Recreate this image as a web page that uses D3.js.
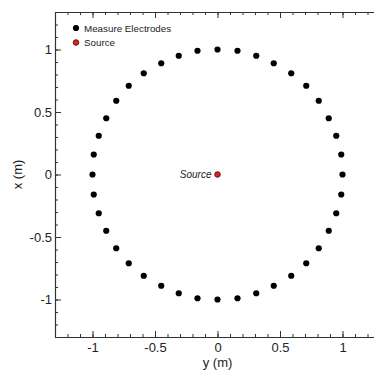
<!DOCTYPE html>
<html>
<head>
<meta charset="utf-8">
<script src="https://d3js.org/d3.v7.min.js"></script>
<style>
  body { margin: 0; background: #fff; }
  text { font-family: "Liberation Sans", Arial, sans-serif; fill: #222; }
</style>
</head>
<body>
<svg id="chart" width="374" height="372"></svg>
<script>
// electrode positions (y horizontal, x vertical)
const electrodeY = [0, 0.16, 0.31, 0.45, 0.59, 0.71, 0.81, 0.89, 0.95, 0.99,
                    1, 0.99, 0.95, 0.89, 0.81, 0.71, 0.59, 0.45, 0.31, 0.16,
                    0, -0.16, -0.31, -0.45, -0.59, -0.71, -0.81, -0.89, -0.95, -0.99,
                    -1, -0.99, -0.95, -0.89, -0.81, -0.71, -0.59, -0.45, -0.31, -0.16]
const electrodeX = [1, 0.99, 0.95, 0.89, 0.81, 0.71, 0.59, 0.45, 0.31, 0.16,
                    0, -0.16, -0.31, -0.45, -0.59, -0.71, -0.81, -0.89, -0.95, -0.99,
                    -1, -0.99, -0.95, -0.89, -0.81, -0.71, -0.59, -0.45, -0.31, -0.16,
                    0, 0.16, 0.31, 0.45, 0.59, 0.71, 0.81, 0.89, 0.95, 0.99]
const sourceY = [0]
const sourceX = [0]
const majorTicks = [-1, -0.5, 0, 0.5, 1]
const legendLabels = ["Measure Electrodes", "Source"]

const svg = d3.select("#chart")
const padL = 55, padT = 12, size = 325

const sx = d3.scaleLinear().domain([-1.3, 1.3]).range([padL, padL + size])
const sy = d3.scaleLinear().domain([-1.3, 1.3]).range([padT + size, padT])
const fmt = d => String(d)
const minor = d3.range(-13, 14).map(d => d / 10)

function inTicks(axis, len) {
    return axis.tickSizeInner(-len).tickSizeOuter(0).tickPadding(3)
}

// bottom
let gb = svg.append("g").attr("transform", `translate(0,${padT + size})`)
gb.call(inTicks(d3.axisBottom(sx).tickValues(minor).tickFormat(""), 3))
gb.append("g").call(inTicks(d3.axisBottom(sx).tickValues(majorTicks).tickFormat(fmt), 6))
// top
let gt = svg.append("g").attr("transform", `translate(0,${padT})`)
gt.call(inTicks(d3.axisTop(sx).tickValues(minor).tickFormat(""), 3))
gt.append("g").call(inTicks(d3.axisTop(sx).tickValues(majorTicks).tickFormat(""), 6))
// left
let gl = svg.append("g").attr("transform", `translate(${padL},0)`)
gl.call(inTicks(d3.axisLeft(sy).tickValues(minor).tickFormat(""), 3))
gl.append("g").call(inTicks(d3.axisLeft(sy).tickValues(majorTicks).tickFormat(fmt), 6))
// right
let gr = svg.append("g").attr("transform", `translate(${padL + size},0)`)
gr.call(inTicks(d3.axisRight(sy).tickValues(minor).tickFormat(""), 3))
gr.append("g").call(inTicks(d3.axisRight(sy).tickValues(majorTicks).tickFormat(""), 6))

svg.selectAll(".domain").attr("stroke", "#333").attr("stroke-width", 1.1)
svg.selectAll(".tick line").attr("stroke", "#333")
svg.selectAll(".tick text").attr("font-size", 13).attr("fill", "#222")
  .style("font-family", "'Liberation Sans', Arial, sans-serif")
gb.selectAll(".tick text").attr("dy", "0.92em")

svg.append("text").attr("x", sx(0)).attr("y", 367).attr("text-anchor", "middle")
  .attr("font-size", 13).text("y (m)")
svg.append("text").attr("transform", `translate(22,${sy(0)}) rotate(-90)`)
  .attr("text-anchor", "middle").attr("font-size", 13).text("x (m)")

// electrodes
svg.append("g").selectAll("circle").data(electrodeY).join("circle")
  .attr("cx", d => sx(d)).attr("cy", (d, i) => sy(electrodeX[i]))
  .attr("r", 3.1).attr("fill", "#000")

// source
svg.append("g").selectAll("circle").data(sourceY).join("circle")
  .attr("cx", d => sx(d)).attr("cy", (d, i) => sy(sourceX[i]))
  .attr("r", 2.8).attr("fill", "#e02418").attr("stroke", "#400").attr("stroke-width", 0.8)
svg.append("text").attr("x", sx(0) - 6).attr("y", sy(0) + 3.5).attr("text-anchor", "end")
  .attr("font-size", 10).attr("font-style", "italic").text("Source")

// legend
const legend = svg.append("g")
legendLabels.forEach((t, i) => {
    let y = 28 + i * 14.5
    legend.append("circle").attr("cx", 76).attr("cy", y).attr("r", i ? 2.8 : 3.1)
      .attr("fill", i ? "#e02418" : "#000").attr("stroke", i ? "#400" : "none").attr("stroke-width", 0.8)
    legend.append("text").attr("x", 84).attr("y", y + 3.5).attr("font-size", 9.8).text(t)
})
</script>
</body>
</html>
